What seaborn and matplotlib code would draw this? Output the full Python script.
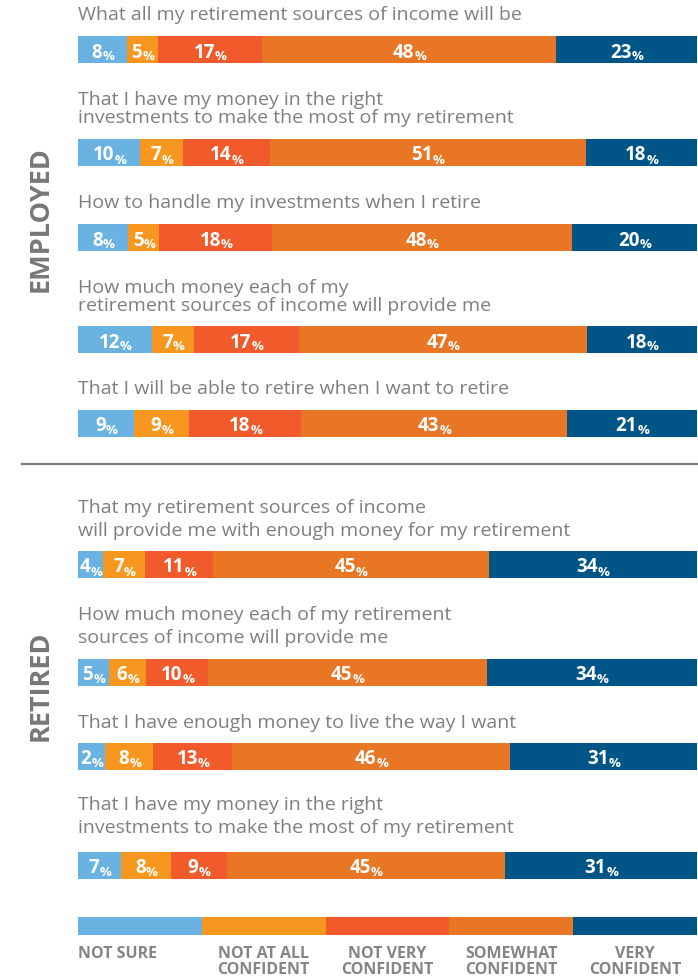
import matplotlib
matplotlib.use("Agg")
import matplotlib.pyplot as plt
import seaborn as sns
import pandas as pd

# ---------------- data ----------------
categories = ["NOT SURE", "NOT AT ALL\nCONFIDENT", "NOT VERY\nCONFIDENT",
              "SOMEWHAT\nCONFIDENT", "VERY\nCONFIDENT"]
colors = ["#6AB2E2", "#F7971F", "#F15A2B", "#E87624", "#005587"]

employed_questions = [
    ["What all my retirement sources of income will be"],
    ["That I have my money in the right",
     "investments to make the most of my retirement"],
    ["How to handle my investments when I retire"],
    ["How much money each of my",
     "retirement sources of income will provide me"],
    ["That I will be able to retire when I want to retire"],
]
employed_values = [
    [8, 5, 17, 48, 23],
    [10, 7, 14, 51, 18],
    [8, 5, 18, 48, 20],
    [12, 7, 17, 47, 18],
    [9, 9, 18, 43, 21],
]
retired_questions = [
    ["That my retirement sources of income",
     "will provide me with enough money for my retirement"],
    ["How much money each of my retirement",
     "sources of income will provide me"],
    ["That I have enough money to live the way I want"],
    ["That I have my money in the right",
     "investments to make the most of my retirement"],
]
retired_values = [
    [4, 7, 11, 45, 34],
    [5, 6, 10, 45, 34],
    [2, 8, 13, 46, 31],
    [7, 8, 9, 45, 31],
]
group_labels = ["EMPLOYED", "RETIRED"]

# ---------------- layout (pixels) ----------------
W, H = 698, 979
BAR_X0, BAR_X1 = 78, 697
bar_tops = [37, 140, 225, 327, 411, 552, 660, 744, 853]
BAR_H = 27
label_baselines = [[20], [105, 123], [208], [293, 311], [394],
                   [513, 536], [620, 643], [728], [810, 833]]
MIN_DISPLAY = 4.5   # tiny segments are widened so their label fits (as in the original)

TEXT_GRAY = "#7f7f7f"
FONT = ["Open Sans", "DejaVu Sans"]

fig = plt.figure(figsize=(W / 100, H / 100), dpi=100)
fig.patch.set_facecolor("white")


def fx(x):
    return x / W


def fy(y):
    return 1 - y / H


def stacked_bar(ax, name, values, show_labels=True):
    shown = [v if v >= 4 else MIN_DISPLAY for v in values]
    total = sum(shown)
    cums = []
    c = 0
    for v in shown:
        c += v
        cums.append(c)
    # draw from the longest (cumulative) to shortest so segments overlay
    for k in reversed(range(len(shown))):
        df = pd.DataFrame({"q": [name], "end": [cums[k]]})
        sns.barplot(data=df, x="end", y="q", orient="h", color=colors[k],
                    saturation=1, width=1, linewidth=0, errorbar=None, ax=ax)
    ax.set_xlim(0, total)
    ax.set_ylim(0.5, -0.5)
    ax.axis("off")
    if show_labels:
        start = 0
        for k, (v, s) in enumerate(zip(values, shown)):
            cx = start + s / 2
            start += s
            t1 = ax.annotate(str(v), xy=(cx, 0), xycoords="data",
                             xytext=(-5.5, -7), textcoords="offset pixels",
                             ha="center", va="baseline", color="white",
                             fontsize=13.5, fontweight="bold", family=FONT)
            ax.annotate("%", xy=(1, 0), xycoords=t1, xytext=(0, -1),
                        textcoords="offset pixels", ha="left", va="bottom",
                        color="white", fontsize=9.5, fontweight="bold",
                        family=FONT)


all_questions = employed_questions + retired_questions
all_values = employed_values + retired_values

for i, (q, vals) in enumerate(zip(all_questions, all_values)):
    top = bar_tops[i]
    ax = fig.add_axes([fx(BAR_X0), fy(top + BAR_H), fx(BAR_X1 - BAR_X0), BAR_H / H])
    stacked_bar(ax, " ".join(q), vals)
    for line, base in zip(q, label_baselines[i]):
        fig.text(fx(BAR_X0), fy(base), line, ha="left", va="baseline",
                 fontsize=14, color=TEXT_GRAY, family=FONT)

# group labels
fig.text(fx(40.5), fy(219), group_labels[0], rotation=90, ha="center",
         va="center", fontsize=19.5, fontweight="bold", color="#777777", family=FONT)
fig.text(fx(41), fy(686), group_labels[1], rotation=90, ha="center",
         va="center", fontsize=19.5, fontweight="bold", color="#777777", family=FONT)

# separator line
fig.add_artist(plt.Line2D([fx(22), fx(697)], [fy(464.5), fy(464.5)],
                          color="#7a7a7a", linewidth=1.6))

# legend as a stacked key bar
lax = fig.add_axes([fx(BAR_X0), fy(936), fx(BAR_X1 - BAR_X0), 18 / H])
stacked_bar(lax, "legend", [1] * len(categories), show_labels=False)
seg = (BAR_X1 - BAR_X0) / len(categories)
for k, cat in enumerate(categories):
    lines = cat.split("\n")
    if k == 0:
        x, ha = BAR_X0, "left"
    else:
        x, ha = BAR_X0 + seg * (k + 0.5), "center"
    for j, line in enumerate(lines):
        fig.text(fx(x), fy(958 + 16.5 * j), line, ha=ha, va="baseline",
                 fontsize=11.5, fontweight="bold", color="#858585", family=FONT)

fig.savefig("out.png", dpi=100, facecolor="white")
